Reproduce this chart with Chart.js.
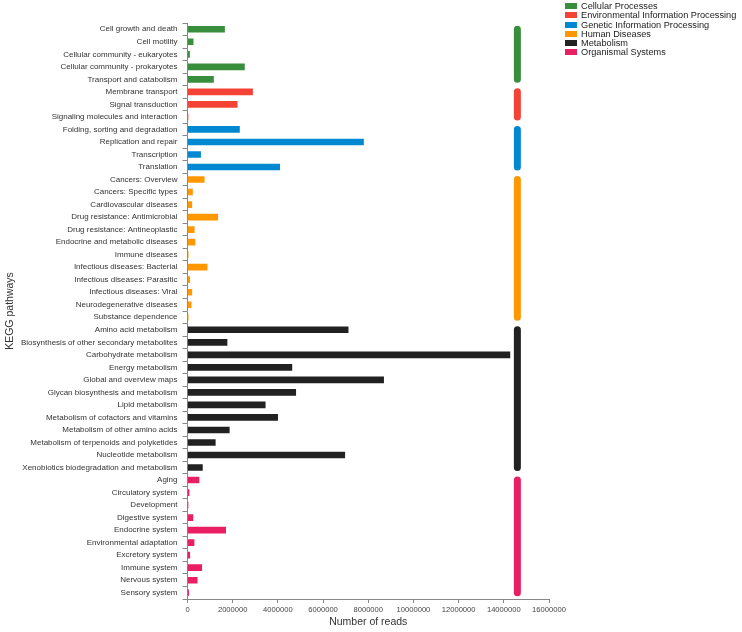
<!DOCTYPE html>
<html lang="en">
<head>
    <meta charset="UTF-8">
    <title>KEGG pathways</title>
    <script src="https://cdn.jsdelivr.net/npm/chart.js"></script>
    <style>
        body { margin: 0; background: #fff; }
        #wrap { position: relative; width: 742px; height: 632px; }
        #legend { position: absolute; left: 565px; top: 2px; font: 9.2px "Liberation Sans", Arial, sans-serif; color: #222; }
        #legend div { height: 9.3px; line-height: 9.3px; white-space: nowrap; }
        #legend span { display: inline-block; width: 12px; height: 6px; margin-right: 4px; vertical-align: 0px; }
    </style>
</head>
<body>
<div id="wrap">
    <canvas id="chart"></canvas>
    <div id="legend"></div>
</div>
<script>
    // grupos KEGG (nível 1) e quantas vias de cada um aparecem no eixo
    const groupNames = ['Cellular Processes', 'Environmental Information Processing', 'Genetic Information Processing',
                        'Human Diseases', 'Metabolism', 'Organismal Systems'];
    const groupSizes = [5, 3, 4, 12, 12, 10];

    const categories = [
        'Cell growth and death', 'Cell motility', 'Cellular community - eukaryotes', 'Cellular community - prokaryotes',
        'Transport and catabolism',
        'Membrane transport', 'Signal transduction', 'Signaling molecules and interaction',
        'Folding, sorting and degradation', 'Replication and repair', 'Transcription', 'Translation',
        'Cancers: Overview', 'Cancers: Specific types', 'Cardiovascular diseases', 'Drug resistance: Antimicrobial',
        'Drug resistance: Antineoplastic', 'Endocrine and metabolic diseases', 'Immune diseases',
        'Infectious diseases: Bacterial', 'Infectious diseases: Parasitic', 'Infectious diseases: Viral',
        'Neurodegenerative diseases', 'Substance dependence',
        'Amino acid metabolism', 'Biosynthesis of other secondary metabolites', 'Carbohydrate metabolism',
        'Energy metabolism', 'Global and overview maps', 'Glycan biosynthesis and metabolism', 'Lipid metabolism',
        'Metabolism of cofactors and vitamins', 'Metabolism of other amino acids',
        'Metabolism of terpenoids and polyketides', 'Nucleotide metabolism', 'Xenobiotics biodegradation and metabolism',
        'Aging', 'Circulatory system', 'Development', 'Digestive system', 'Endocrine system',
        'Environmental adaptation', 'Excretory system', 'Immune system', 'Nervous system', 'Sensory system'
    ];

    const reads = [
        1640000, 250000, 90000, 2520000, 1150000,
        2880000, 2200000, 10000,
        2300000, 7790000, 580000, 4080000,
        740000, 220000, 190000, 1340000, 300000, 330000, 30000, 870000, 100000, 190000, 160000, 30000,
        7110000, 1750000, 14270000, 4620000, 8680000, 4790000, 3440000, 3990000, 1850000, 1230000, 6960000, 660000,
        510000, 70000, 5000, 240000, 1690000, 290000, 100000, 630000, 430000, 50000
    ];

    const xTicks = [0, 2000000, 4000000, 6000000, 8000000, 10000000, 12000000, 14000000, 16000000];
    const groupMarkerValue = 14600000; // posição das barras de grupo no eixo x

    const groupColors = ['#388E3C', '#F44336', '#0288D1', '#FF9800', '#212121', '#E91E63'];
    const FONT = '"Liberation Sans", Arial, sans-serif';

    // cor de cada barra e datasets das linhas de grupo
    const barColors = [];
    const groupDatasets = [];
    let start = 0;
    groupSizes.forEach((n, g) => {
        for (let i = 0; i < n; i++) barColors.push(groupColors[g]);
        groupDatasets.push({
            type: 'line',
            label: groupNames[g],
            indexAxis: 'y',
            data: [
                { x: groupMarkerValue, y: categories[start] },
                { x: groupMarkerValue, y: categories[start + n - 1] }
            ],
            borderColor: groupColors[g],
            borderWidth: 7,
            borderCapStyle: 'round',
            pointRadius: 0,
            clip: false
        });
        start += n;
    });

    const ctx = document.getElementById('chart').getContext('2d');
    const chart = new Chart(ctx, {
        type: 'bar',
        data: {
            labels: categories,
            datasets: [{
                label: 'Number of reads',
                data: reads,
                backgroundColor: barColors,
                barThickness: 6,
                minBarLength: 0
            }, ...groupDatasets]
        },
        options: {
            indexAxis: 'y',
            responsive: true,
            maintainAspectRatio: false,
            animation: false,
            layout: { padding: { top: 23, right: 193, left: 0, bottom: 0 } },
            plugins: { legend: { display: false }, tooltip: { enabled: false } },
            scales: {
                x: {
                    min: 0,
                    max: 16000000,
                    afterBuildTicks: (scale) => { scale.ticks = xTicks.map(v => ({ value: v })); },
                    afterFit: (scale) => { scale.height = 33; },
                    ticks: {
                        callback: (v) => String(v),
                        color: '#444',
                        font: { family: FONT, size: 7.6 },
                        padding: 2,
                        maxRotation: 0,
                        autoSkip: false
                    },
                    grid: { drawOnChartArea: false, tickLength: 4, color: '#888' },
                    border: { color: '#888' },
                    title: {
                        display: true,
                        text: 'Number of reads',
                        color: '#333',
                        font: { family: FONT, size: 10.5 },
                        padding: { top: 0, bottom: 4 }
                    }
                },
                y: {
                    afterFit: (scale) => { scale.width = 187.5; },
                    ticks: {
                        color: '#333',
                        font: { family: FONT, size: 8 },
                        padding: 5,
                        autoSkip: false
                    },
                    grid: { drawOnChartArea: false, offset: true, tickLength: 5, color: '#888' },
                    border: { color: '#888' },
                    title: {
                        display: true,
                        text: 'KEGG pathways',
                        color: '#333',
                        font: { family: FONT, size: 10.5 },
                        padding: { top: 4, bottom: 0 }
                    }
                }
            }
        }
    });

    // legenda no canto superior direito
    const legend = document.getElementById('legend');
    groupNames.forEach((name, g) => {
        const row = document.createElement('div');
        row.innerHTML = `<span style="background:${groupColors[g]}"></span>${name}`;
        legend.appendChild(row);
    });
</script>
</body>
</html>
